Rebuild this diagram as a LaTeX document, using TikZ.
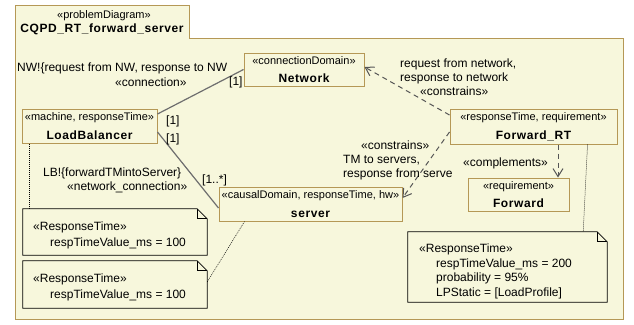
\documentclass[tikz,border=0pt]{standalone}
\usepackage{fontspec}
\setmainfont{Liberation Sans}
\newfontfamily\namefont[LetterSpace=5]{Liberation Sans}
\usetikzlibrary{arrows.meta}

\definecolor{umlfill}{RGB}{247,247,220}
\definecolor{umlborder}{RGB}{181,152,86}
\definecolor{assocgray}{RGB}{110,110,110}
\definecolor{depgray}{RGB}{85,85,85}

% bold element name and small stereotype line
\newcommand\elname[1]{{\fontsize{12}{14}\namefont\bfseries #1}}

\tikzset{
  umlbox/.style={draw=umlborder, line width=1pt, fill=umlfill, inner sep=0pt,
    align=center, font=\fontsize{11}{18.5}\selectfont},
  lbl/.style={font=\fontsize{12}{14}\selectfont, inner sep=0pt, anchor=base west},
  tabtext/.style={inner sep=0pt, anchor=base},
  notearea/.style={draw=none, inner sep=0pt},
  noteedge/.style={draw=black, line width=0.8pt, fill=umlfill},
  assoc/.style={draw=assocgray, line width=1.2pt},
  dep/.style={draw=depgray, line width=1pt, dash pattern=on 5pt off 4pt,
    -{Straight Barb[length=8pt,width=10pt,line width=1pt]}},
  anchorline/.style={draw=black, line width=0.5pt, dash pattern=on 1pt off 1pt},
}

% note outline with a folded top-right corner
\newcommand\drawnote[1]{%
  \path[noteedge] (#1.south west) -- (#1.north west) -- ([xshift=-10pt]#1.north east)
    -- ([yshift=-10pt]#1.north east) -- (#1.south east) -- cycle;
  \draw[noteedge, fill=none] ([xshift=-10pt]#1.north east) |- ([yshift=-10pt]#1.north east);
}

\begin{document}
\begin{tikzpicture}[x=1pt, y=-1pt]
  \useasboundingbox (0,0) rectangle (634,324);
  \fill[white] (0,0) rectangle (634,324);

  % diagram frame with its name tab
  \filldraw[fill=umlfill, draw=umlborder, line width=1pt]
    (15,5) -- (189,5) -- (189,38) -- (623,38) -- (623,319) -- (15,319) -- cycle;
  \node[tabtext, font=\fontsize{11}{13}\selectfont] (tabst) at (104,18) {«problemDiagram»};
  \node[tabtext] (tabname) at (102,32) {\elname{CQPD\_RT\_forward\_server}};

  % domains and requirements
  \node[umlbox, minimum width=120pt, minimum height=33pt] (net) at (304,69.5)
    {«connectionDomain»\\\elname{Network}};
  \node[umlbox, minimum width=135pt, minimum height=34pt] (lb) at (89.5,126)
    {«machine, responseTime»\\\elname{LoadBalancer}};
  \node[umlbox, minimum width=183pt, minimum height=34pt] (srv) at (310.5,204)
    {«causalDomain, responseTime, hw»\\\elname{server}};
  \node[umlbox, minimum width=167pt, minimum height=35pt] (frt) at (533.5,126.5)
    {«responseTime, requirement»\\\elname{Forward\_RT}};
  \node[umlbox, minimum width=101pt, minimum height=33pt] (fwd) at (518.5,194.5)
    {«requirement»\\\elname{Forward}};

  % notes
  \node[notearea, minimum width=184pt, minimum height=46pt] (n1) at (115,232) {};
  \node[notearea, minimum width=184pt, minimum height=47pt] (n2) at (115,284.5) {};
  \node[notearea, minimum width=199pt, minimum height=70pt] (n3) at (507.5,267) {};
  \drawnote{n1}
  \drawnote{n2}
  \drawnote{n3}
  \node[lbl] (n1a) at (33,230) {«ResponseTime»};
  \node[lbl] (n1b) at (50,246) {respTimeValue\_ms = 100};
  \node[lbl] (n2a) at (33,282) {«ResponseTime»};
  \node[lbl] (n2b) at (50,298) {respTimeValue\_ms = 100};
  \node[lbl] (n3a) at (419,252) {«ResponseTime»};
  \node[lbl] (n3b) at (436,267) {respTimeValue\_ms = 200};
  \node[lbl] (n3c) at (436,281.5) {probability = 95\%};
  \node[lbl] (n3d) at (436,296) {LPStatic = [LoadProfile]};

  % associations
  \draw[assoc] ([yshift=12pt]lb.east) -- (net.west);
  \draw[assoc] ([yshift=-6pt]lb.east) -- ([yshift=-4pt]srv.west);

  % dependencies
  \draw[dep] ([yshift=11.5pt]frt.west) -- ([yshift=2.5pt]net.east);
  \draw[dep] ([yshift=-5.5pt]frt.west) -- ([yshift=6pt]srv.east);
  \draw[dep] ([xshift=24.5pt]frt.south) -- ([xshift=24.5pt]frt.south |- fwd.north);

  % note anchors
  \draw[anchorline] ([xshift=8pt]lb.south west) -- ([xshift=8pt]lb.south west |- n1.north);
  \draw[anchorline] ([xshift=26pt]srv.south west) -- ([yshift=2.5pt]n2.east);
  \draw[anchorline] ([xshift=-30pt]frt.south east) -- ([xshift=-24pt]n3.north east);

  % connector labels
  \node[lbl] (l1) at (17,71) {NW!\{request from NW, response to NW};
  \node[lbl] (l2) at (115,86) {«connection»};
  \node[lbl] (m1) at (229,85) {[1]};
  \node[lbl] (m2) at (166,124) {[1]};
  \node[lbl] (m3) at (166,142) {[1]};
  \node[lbl] (m4) at (202,183) {[1..*]};
  \node[lbl] (l3) at (43,176) {LB!\{forwardTMintoServer\}};
  \node[lbl] (l4) at (67,190) {«network\_connection»};
  \node[lbl] (l5) at (400,67) {request from network,};
  \node[lbl] (l6) at (400,81) {response to network};
  \node[lbl] (l7) at (420,95) {«constrains»};
  \node[lbl] (l8) at (361,149) {«constrains»};
  \node[lbl] (l9) at (343,163) {TM to servers,};
  \node[lbl] (l10) at (343,177) {response from serve};
  \node[lbl] (l11) at (463,166) {«complements»};
\end{tikzpicture}
\end{document}
